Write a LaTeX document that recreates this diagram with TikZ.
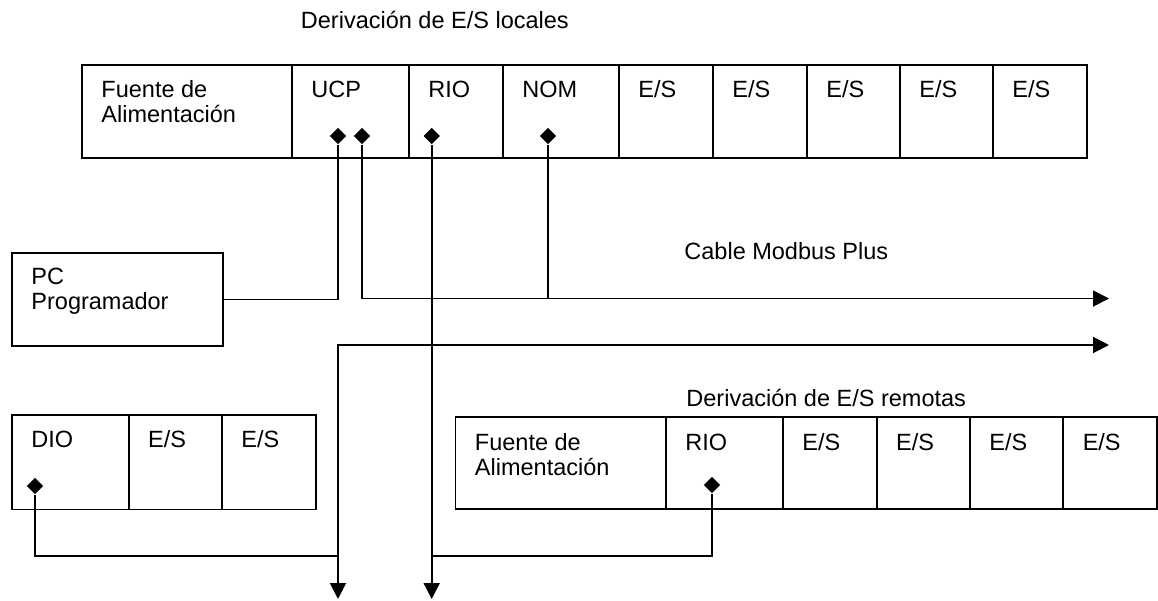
\documentclass[tikz,border=0pt]{standalone}
\usepackage{fontspec}
\setmainfont{Liberation Sans}
\usetikzlibrary{shapes.geometric,arrows.meta,calc}
\begin{document}
\begin{tikzpicture}[x=1pt,y=-1pt,line width=1.9pt,
  cell/.style={draw,rectangle,inner sep=0pt,anchor=north west,minimum height=93pt},
  lbl/.style={inner sep=0pt,anchor=base west,font=\fontsize{23.5}{25}\selectfont},
  dot/.style={diamond,fill=black,draw=none,inner sep=0pt,minimum width=17pt,minimum height=17pt},
  tri/.tip={Triangle[length=16pt,width=16pt]},
  tip/.style={-tri}]
\useasboundingbox (0,0) rectangle (1158,600);

% ---------- local rack ----------
\node[cell,minimum width=210pt] (t1) at (81,64) {};
\node[cell,minimum width=117pt] (t2) at (291,64) {};
\node[cell,minimum width=94pt]  (t3) at (408,64) {};
\node[cell,minimum width=116pt] (t4) at (502,64) {};
\node[cell,minimum width=94pt]  (t5) at (618,64) {};
\node[cell,minimum width=94pt]  (t6) at (712,64) {};
\node[cell,minimum width=93pt]  (t7) at (806,64) {};
\node[cell,minimum width=93pt]  (t8) at (899,64) {};
\node[cell,minimum width=94pt]  (t9) at (992,64) {};
\node[lbl] (t1l) at ($(t1.north west)+(19.5,33.5)$) {\parbox[t]{180pt}{Fuente de\\Alimentación}};
\node[lbl] (t2l) at ($(t2.north west)+(19.5,33.5)$) {UCP};
\node[lbl] (t3l) at ($(t3.north west)+(19.5,33.5)$) {RIO};
\node[lbl] (t4l) at ($(t4.north west)+(19.5,33.5)$) {NOM};
\node[lbl] (t5l) at ($(t5.north west)+(19.5,33.5)$) {E/S};
\node[lbl] (t6l) at ($(t6.north west)+(19.5,33.5)$) {E/S};
\node[lbl] (t7l) at ($(t7.north west)+(19.5,33.5)$) {E/S};
\node[lbl] (t8l) at ($(t8.north west)+(19.5,33.5)$) {E/S};
\node[lbl] (t9l) at ($(t9.north west)+(19.5,33.5)$) {E/S};
\node[lbl] (title1) at (300,28) {Derivación de E/S locales};

% ---------- PC ----------
\node[cell,minimum width=210.7pt] (pc) at (11,252) {};
\node[lbl] (pcl) at ($(pc.north west)+(19.5,32.5)$) {\parbox[t]{180pt}{PC\\Programador}};
\node[lbl] (cable) at (683.5,259) {Cable Modbus Plus};

% ---------- DIO rack ----------
\node[cell,minimum width=116.7pt,minimum height=94.5pt] (a1) at (11,414) {};
\node[cell,minimum width=93.3pt,minimum height=94.5pt]  (a2) at (127.7,414) {};
\node[cell,minimum width=94pt,minimum height=94.5pt]    (a3) at (221,414) {};
\node[lbl] (a1l) at ($(a1.north west)+(19.5,33)$) {DIO};
\node[lbl] (a2l) at ($(a2.north west)+(19.5,33)$) {E/S};
\node[lbl] (a3l) at ($(a3.north west)+(19.5,33)$) {E/S};

% ---------- remote rack ----------
\node[cell,minimum width=210.5pt,minimum height=92pt] (r1) at (454.5,416) {};
\node[cell,minimum width=117pt,minimum height=92pt]   (r2) at (665,416) {};
\node[cell,minimum width=93.7pt,minimum height=92pt]  (r3) at (782,416) {};
\node[cell,minimum width=93.3pt,minimum height=92pt]  (r4) at (875.7,416) {};
\node[cell,minimum width=93.3pt,minimum height=92pt]  (r5) at (969,416) {};
\node[cell,minimum width=93.7pt,minimum height=92pt]  (r6) at (1062.3,416) {};
\node[lbl] (r1l) at ($(r1.north west)+(19.5,34)$) {\parbox[t]{180pt}{Fuente de\\Alimentación}};
\node[lbl] (r2l) at ($(r2.north west)+(19.5,34)$) {RIO};
\node[lbl] (r3l) at ($(r3.north west)+(19.5,34)$) {E/S};
\node[lbl] (r4l) at ($(r4.north west)+(19.5,34)$) {E/S};
\node[lbl] (r5l) at ($(r5.north west)+(19.5,34)$) {E/S};
\node[lbl] (r6l) at ($(r6.north west)+(19.5,34)$) {E/S};
\node[lbl] (title2) at (685.5,406.5) {Derivación de E/S remotas};

% ---------- connection points ----------
\node[dot] (d1) at (338,136) {};
\node[dot] (d2) at (362,136) {};
\node[dot] (d3) at (431.7,136) {};
\node[dot] (d4) at (548,136) {};
\node[dot] (d5) at (35,486) {};
\node[dot] (d6) at (712,485) {};

\coordinate (m1) at (1109,298.5);
\coordinate (m2) at (1109,345);
\coordinate (b1) at (338,599);
\coordinate (b2) at (431.7,599);
\coordinate (j1) at (338,555.7);
\coordinate (j2) at (431.7,555.7);

% ---------- connectors ----------
\draw (d1.south) |- (pc.east);
\draw[tip] (d2.south) |- (m1);
\draw (d4.south) -- (d4.south |- m1);
\draw[tip] (d3.south) -- (b2);
\draw[tri-tri] (b1) |- (m2);
\draw (d5.south) |- (j1);
\draw (d6.south) |- (j2);
\end{tikzpicture}
\end{document}
